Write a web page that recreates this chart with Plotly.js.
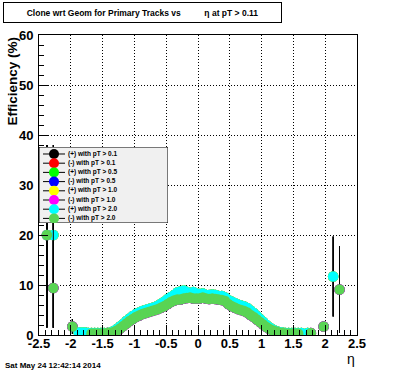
<!DOCTYPE html>
<html><head><meta charset="utf-8">
<script src="https://cdn.plot.ly/plotly-3.0.1.min.js"></script>
<style>html,body{margin:0;padding:0;background:#fff}#plot{width:396px;height:372px}</style>
</head><body><div id="plot"></div>
<script>
// ---- series definitions ----
const seriesNames = ["(+) with pT > 0.1", "(-) with pT > 0.1", "(+) with pT > 0.5", "(-) with pT > 0.5",
                     "(+) with pT > 1.0", "(-) with pT > 1.0", "(+) with pT > 2.0", "(-) with pT > 2.0"];
const seriesColors = ["#000000", "#ff0000", "#00ff00", "#0000ff", "#ffff00", "#ff00ff", "#00ffff", "#59d454"];
const seriesCharge = ["+", "-", "+", "-", "+", "-", "+", "-"];

// ---- (+) tracks, eta bins and efficiency (%) ----
const posEta = [-2.375, -2.275, -1.875, -1.825, -1.775, -1.725,
  -1.675, -1.625, -1.575, -1.525, -1.475, -1.425, -1.375, -1.325, -1.275, -1.225,
  -1.175, -1.125, -1.075, -1.025, -0.975, -0.925, -0.875, -0.825, -0.775, -0.725,
  -0.675, -0.625, -0.575, -0.525, -0.475, -0.425, -0.375, -0.325, -0.275, -0.225,
  -0.175, -0.125, -0.075, -0.025, 0.025, 0.075, 0.125, 0.175, 0.225, 0.275,
  0.325, 0.375, 0.425, 0.475, 0.525, 0.575, 0.625, 0.675, 0.725, 0.775,
  0.825, 0.875, 0.925, 0.975, 1.025, 1.075, 1.125, 1.175, 1.225, 1.275,
  1.325, 1.375, 1.425, 1.475, 1.525, 1.575, 1.625, 1.725, 2.125];
const posEff = [20, 20, 0.5, 0.5, 0.5, 0.4,
  0.4, 0.4, 0.4, 0.4, 0.4, 0.4, 0.5, 0.8, 1.2, 1.7,
  2.2, 2.8, 3.3, 3.8, 4.2, 4.5, 4.8, 5.0, 5.2, 5.4,
  5.6, 5.9, 6.3, 6.7, 7.2, 7.6, 8.0, 8.5, 8.7, 8.9,
  8.6, 8.3, 8.6, 8.3, 8.2, 8.3, 8.0, 8.0, 8.1, 8.0,
  7.8, 7.8, 7.5, 7.0, 6.7, 6.4, 6.1, 5.9, 5.7, 5.4,
  4.9, 4.4, 3.8, 3.2, 2.6, 2.0, 1.5, 1.1, 0.8, 0.6,
  0.5, 0.4, 0.4, 0.4, 0.4, 0.4, 0.4, 0.4, 11.7];
const posErrEta  = [-2.375, -2.275, 2.125];
const posErrUp   = [18, 18, 8];
const posErrDown = [18.5, 18.5, 8];

// ---- (-) tracks ----
const negEta = [-2.375, -2.275, -1.975,
  -1.675, -1.625, -1.575, -1.525, -1.475, -1.425, -1.375, -1.325, -1.275, -1.225,
  -1.175, -1.125, -1.075, -1.025, -0.975, -0.925, -0.875, -0.825, -0.775, -0.725,
  -0.675, -0.625, -0.575, -0.525, -0.475, -0.425, -0.375, -0.325, -0.275, -0.225,
  -0.175, -0.125, -0.075, -0.025, 0.025, 0.075, 0.125, 0.175, 0.225, 0.275,
  0.325, 0.375, 0.425, 0.475, 0.525, 0.575, 0.625, 0.675, 0.725, 0.775,
  0.825, 0.875, 0.925, 0.975, 1.025, 1.075, 1.125, 1.175, 1.225, 1.275,
  1.325, 1.375, 1.425, 1.475, 1.525, 1.575, 1.775, 1.975, 2.225];
const negEff = [20, 9.4, 1.7,
  0.3, 0.3, 0.3, 0.3, 0.3, 0.4, 0.4, 0.6, 0.9, 1.3,
  1.8, 2.3, 2.8, 3.2, 3.6, 3.9, 4.2, 4.4, 4.6, 4.8,
  5.0, 5.2, 5.5, 5.8, 6.2, 6.6, 6.9, 7.1, 7.1, 7.3,
  7.4, 7.5, 7.3, 7.3, 7.3, 7.5, 7.3, 7.2, 7.3, 7.2,
  7.1, 7.0, 6.8, 6.2, 5.8, 5.5, 5.2, 5.0, 4.8, 4.5,
  4.0, 3.6, 3.1, 2.6, 2.1, 1.6, 1.2, 0.9, 0.7, 0.5,
  0.4, 0.3, 0.3, 0.3, 0.3, 0.3, 0.4, 1.7, 9.1];
const negErrEta  = [-2.375, -2.275, -1.975, 2.225];
const negErrUp   = [18, 14, 1.5, 8.7];
const negErrDown = [18.5, 8, 1.5, 8.7];

// ---- axis ticks ----
const xTickVals = [-2.5, -2, -1.5, -1, -0.5, 0, 0.5, 1, 1.5, 2, 2.5];
const xTickText = ["-2.5", "-2", "-1.5", "-1", "-0.5", "0", "0.5", "1", "1.5", "2", "2.5"];
const yTickVals = [0, 10, 20, 30, 40, 50, 60];
const yTickText = ["0", "10", "20", "30", "40", "50", "60"];

// ---- build ----
function errArray(etas, errEta, errVals) {
  return etas.map(e => { const i = errEta.indexOf(e); return i >= 0 ? errVals[i] : 0; });
}
const FONT = "Liberation Sans, Arial, Helvetica, sans-serif";
const traces = [];
seriesNames.forEach((name, i) => {
  const pos = seriesCharge[i] === "+";
  const x = pos ? posEta : negEta;
  const y = pos ? posEff : negEff;
  traces.push({
    type: "scatter", mode: "markers", x: x, y: y, name: name, showlegend: false,
    xaxis: "x", yaxis: "y", hoverinfo: "skip",
    marker: {color: seriesColors[i], size: 10.5, line: {width: 0}},
    error_y: {type: "data", symmetric: false,
      array: errArray(x, pos ? posErrEta : negErrEta, pos ? posErrUp : negErrUp),
      arrayminus: errArray(x, pos ? posErrEta : negErrEta, pos ? posErrDown : negErrDown),
      color: "black", thickness: 1, width: 0}
  });
});
// legend drawn in an inset subplot
const legIdx = seriesNames.map((n, i) => i);
traces.push({
  type: "scatter", mode: "markers", xaxis: "x2", yaxis: "y2", showlegend: false, hoverinfo: "skip",
  x: legIdx.map(() => 15), y: legIdx,
  marker: {color: seriesColors, size: 10, line: {width: 0}},
  error_x: {type: "data", array: legIdx.map(() => 11), color: "black", thickness: 1, width: 0}
});
traces.push({
  type: "scatter", mode: "text", xaxis: "x2", yaxis: "y2", showlegend: false, hoverinfo: "skip",
  x: legIdx.map(() => 29), y: legIdx, text: seriesNames, textposition: "middle right",
  textfont: {family: FONT, size: 6.5, color: "black", weight: "bold"}
});

const W = 396, H = 372, L = 39, R = 39, T = 35, B = 37;
const pw = W - L - R, ph = H - T - B;
const px = v => (v - L) / pw, py = v => (H - B - v) / ph;

const axisCommon = {
  ticks: "inside", tickcolor: "black", showline: true, linecolor: "black", linewidth: 1,
  mirror: true, showgrid: true, gridcolor: "black", griddash: "1px,2px", gridwidth: 1,
  zeroline: false, fixedrange: true, tickmode: "array",
  tickfont: {family: FONT, size: 13, color: "black", weight: "bold"}
};
const layout = {
  width: W, height: H, margin: {l: L, r: R, t: T, b: B, pad: 0},
  paper_bgcolor: "white", plot_bgcolor: "white", showlegend: false,
  font: {family: FONT, color: "black"},
  xaxis: Object.assign({}, axisCommon, {range: [-2.5, 2.5], tickvals: xTickVals, ticktext: xTickText,
    ticklen: 10, ticklabelstandoff: -4,
    minor: {tick0: -2.5, dtick: 0.1, ticks: "inside", ticklen: 5, tickcolor: "black", showgrid: false}}),
  yaxis: Object.assign({}, axisCommon, {range: [0, 60], tickvals: yTickVals, ticktext: yTickText,
    ticklen: 9, ticklabelstandoff: 2,
    minor: {tick0: 0, dtick: 2, ticks: "inside", ticklen: 5, tickcolor: "black", showgrid: false}}),
  xaxis2: {domain: [0, 129 / pw], range: [0, 129], visible: false, anchor: "y2", fixedrange: true},
  yaxis2: {domain: [py(223), py(147)], range: [7.5, -0.76], visible: false, anchor: "x2", fixedrange: true},
  shapes: [{type: "rect", xref: "x2", yref: "y2", x0: 0, x1: 129, y0: -0.76, y1: 7.5,
            fillcolor: "#f0f0f0", line: {color: "black", width: 1}, layer: "below"}],
  annotations: [
    {xref: "paper", yref: "paper", x: px(3), y: py(2), xanchor: "left", yanchor: "top",
     text: "Clone wrt Geom for Primary Tracks vs" + "\u00a0".repeat(10) + "η at pT > 0.11",
     showarrow: false, width: 275, height: 17, bgcolor: "white", bordercolor: "black",
     borderwidth: 1, borderpad: 1, align: "center",
     font: {family: FONT, size: 8.5, color: "black", weight: "bold"}},
    {xref: "paper", yref: "paper", x: px(12), y: py(35), xanchor: "center", yanchor: "top",
     text: "Efficiency (%)", textangle: -90, showarrow: false,
     font: {family: FONT, size: 13.5, color: "black", weight: "bold"}},
    {xref: "paper", yref: "paper", x: px(351), y: py(359), xanchor: "center", yanchor: "middle",
     text: "η", showarrow: false, font: {family: FONT, size: 14, color: "black"}},
    {xref: "paper", yref: "paper", x: px(3), y: py(365), xanchor: "left", yanchor: "middle",
     text: "Sat May 24 12:42:14 2014", showarrow: false,
     font: {family: FONT, size: 8, color: "black", weight: "bold"}}
  ]
};
Plotly.newPlot("plot", traces, layout, {staticPlot: true, displayModeBar: false});
</script>
</body></html>
